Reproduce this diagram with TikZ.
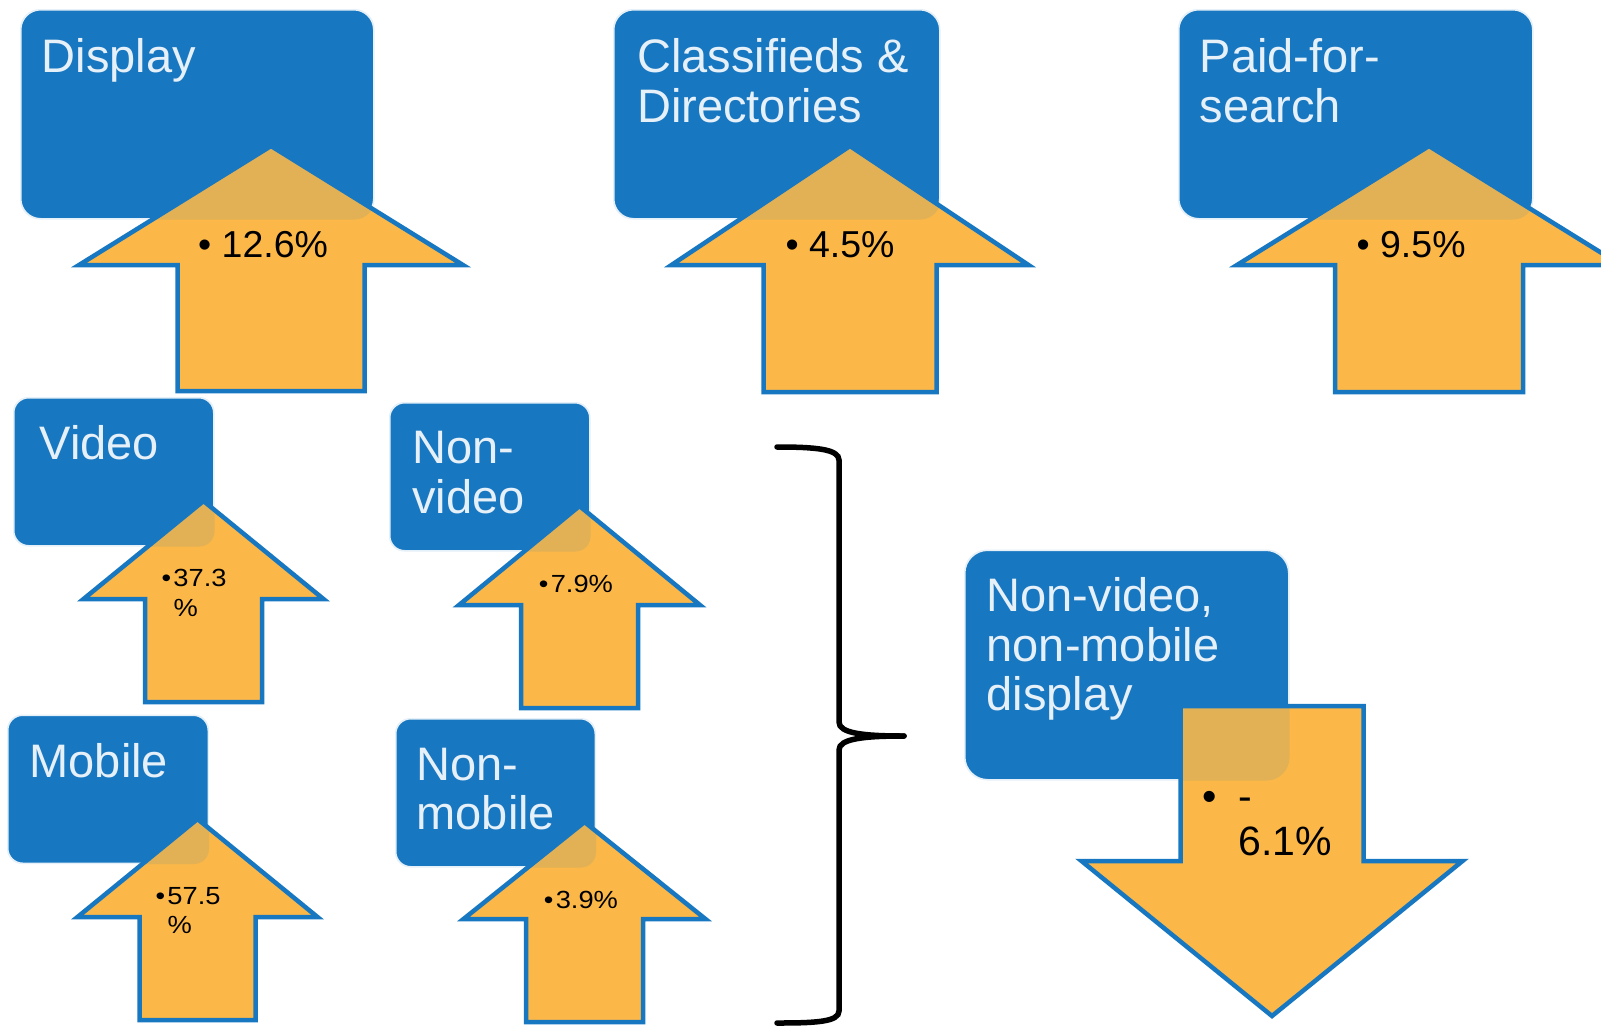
\documentclass[tikz,border=0pt]{standalone}
\usepackage{fontspec}
\setmainfont{Liberation Sans}
\newfontfamily\pctfont[FakeStretch=1.1]{Liberation Sans}
\definecolor{bblue}{RGB}{24,119,193}
\definecolor{ocol}{RGB}{251,184,72}
\tikzset{every picture/.style={x=1pt,y=-1pt}}
\tikzset{box/.style={rectangle,fill=bblue,draw=white,line width=1.5pt,rounded corners=#1,anchor=north west,inner sep=0},box/.default=20}
\tikzset{tint/.style={fill=bblue,fill opacity=.11}}
\tikzset{title/.style={text=white,font=\fontsize{47}{49.5}\selectfont,align=left,inner sep=0,anchor=north west}}
\tikzset{bigpct/.style={font=\fontsize{37.5}{43}\selectfont,inner sep=0,anchor=base west}}
\tikzset{smallpct/.style={font=\pctfont\fontsize{24.8}{29.7}\selectfont,align=left,inner sep=0,anchor=north west}}
\tikzset{downpct/.style={font=\fontsize{41}{45}\selectfont,align=left,inner sep=0,anchor=north west}}
\tikzset{fat/.style={draw=bblue,line width=4.5pt,fill=ocol}}
\tikzset{brace/.style={line width=5.5pt,line cap=round}}

% block arrow: tip x, tip y, head half width, head base y, shaft half width, shaft end y
\newcommand{\fatarrow}[6]{\draw[fat] (#1,#2) -- (#1+#3,#4) -- (#1+#5,#4) -- (#1+#5,#6) -- (#1-#5,#6) -- (#1-#5,#4) -- (#1-#3,#4) -- cycle;}

\begin{document}
\begin{tikzpicture}
\useasboundingbox (0,0) rectangle (1601,1026);

% top row
\node[box,minimum width=353,minimum height=209] (display) at (20,9) {};
\node[title] (displayt) at (41.5,38.3) {Display};
\fatarrow{271}{146}{192}{265}{93.5}{391}
\node[bigpct] (displayp) at (198,257) {\textbullet\ 12.6\%};

\node[box,minimum width=326,minimum height=209] (classif) at (613,9) {};
\node[title] (classift) at (637,38.3) {Classifieds \&\\Directories};
\fatarrow{850}{146}{178.5}{265}{86.5}{392}
\node[bigpct] (classifp) at (785.4,257) {\textbullet\ 4.5\%};

\node[box,minimum width=354,minimum height=209] (paid) at (1178,9) {};
\node[title] (paidt) at (1199.5,38.3) {Paid-for-\\search};
\fatarrow{1429}{146}{192}{265}{94}{392}
\node[bigpct] (paidp) at (1356.4,257) {\textbullet\ 9.5\%};

% split of display
\node[box=15,minimum width=200,minimum height=148] (video) at (13,397) {};
\node[title] (videot) at (39.5,425.3) {Video};
\fatarrow{203.5}{501}{120}{599}{58.5}{702}
\node[smallpct] (videop) at (161.3,569) {\makebox[12pt][l]{\textbullet}37.3\\\hspace*{12pt}\%};

\node[box=15,minimum width=200,minimum height=148] (nonvideo) at (389,402) {};
\node[title] (nonvideot) at (412,431.3) {Non-\\video};
\fatarrow{579.5}{506}{120.5}{605}{58.5}{708}
\node[smallpct] (nonvideop) at (538.6,575.3) {\makebox[12pt][l]{\textbullet}7.9\%};

\node[box=15,minimum width=200.5,minimum height=148] (mobile) at (7,714.5) {};
\node[title] (mobilet) at (29.5,743.3) {Mobile};
\fatarrow{197.5}{819}{120}{917}{58}{1020}
\node[smallpct] (mobilep) at (155.3,887) {\makebox[12pt][l]{\textbullet}57.5\\\hspace*{12pt}\%};

\node[box=15,minimum width=199.5,minimum height=148] (nonmobile) at (395,718) {};
\node[title] (nonmobilet) at (416.5,747.8) {Non-\\mobile};
\fatarrow{584.5}{822}{121}{919}{58.5}{1022}
\node[smallpct] (nonmobilep) at (543.6,891) {\makebox[12pt][l]{\textbullet}3.9\%};

% brace
\draw[brace] (777,447) .. controls (815,447) and (839,449) .. (839,460) -- (839,722) .. controls (839,733) and (862,736) .. (904,736);
\draw[brace] (904,736) .. controls (862,736) and (839,739) .. (839,750) -- (839,1011) .. controls (839,1022) and (815,1023) .. (777,1023);

% remainder
\node[box=23,minimum width=324,minimum height=229.5] (rest) at (964,549.5) {};
\node[title] (restt) at (986.5,577.3) {Non-video,\\non-mobile\\display};
\fatarrow{1272}{1016}{190.5}{861}{91.5}{706}
\node[downpct] (restp) at (1202,782) {\makebox[36pt][l]{\textbullet}-\vphantom{6}\\\hspace*{36pt}6.1\%};

% boxes show faintly through the arrows
\foreach \b/\r in {display/20,classif/20,paid/20,video/15,nonvideo/15,mobile/15,nonmobile/15,rest/23}
  \fill[tint,rounded corners=\r] (\b.north west) rectangle (\b.south east);
\end{tikzpicture}
\end{document}
